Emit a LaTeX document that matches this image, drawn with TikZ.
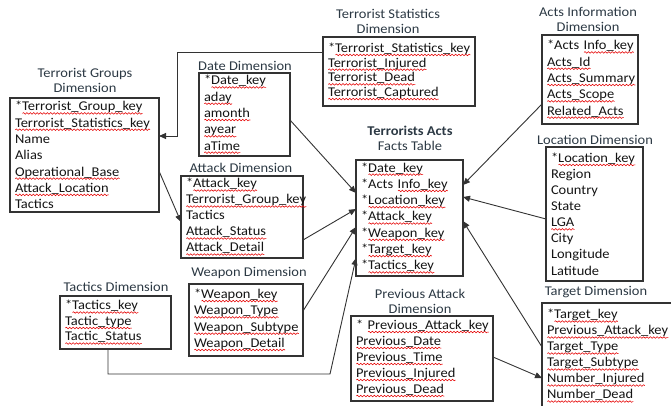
\documentclass[tikz,border=0pt]{standalone}
\usepackage{fontspec}
\setmainfont{Carlito}[FakeStretch=1.08]
\usetikzlibrary{arrows.meta,decorations.pathmorphing}
\newbox\sqbox
\newdimen\sqw
\newcommand\sq[1]{\leavevmode\setbox\sqbox\hbox{#1}\sqw=\wd\sqbox\rlap{\tikz[baseline=0pt,x=1pt,y=1pt]\draw[red!90!black, line width=0.55pt, decorate, decoration={snake,amplitude=0.8pt,segment length=3.4pt}] (0,-2.6) -- (\sqw,-2.6);}\box\sqbox}
\definecolor{ink}{HTML}{141414}
\definecolor{ttl}{HTML}{2C3944}
\definecolor{edge}{HTML}{333333}
\tikzset{
  box/.style={draw=edge, line width=1.2pt, anchor=north west, align=left,
    inner xsep=5pt, inner ysep=0pt, text=ink, outer sep=0pt,
    font=\fontsize{13.4}{16.3}\selectfont},
  ttlnode/.style={align=center, text=ttl, inner sep=0pt,
    font=\fontsize{13.4}{15}\selectfont},
  conn/.style={draw=edge, line width=0.9pt},
  arr/.style={conn, -{Triangle[length=7pt,width=6pt]}}
}
\begin{document}
\begin{tikzpicture}[x=1pt,y=-1pt]
\useasboundingbox (0,0) rectangle (671,405);
% titles
\node[ttlnode] (tgT) at (85,80.5) {Terrorist Groups\\Dimension};
\node[ttlnode] (dateT) at (245,66) {Date Dimension};
\node[ttlnode] (attT) at (241,168) {Attack Dimension};
\node[ttlnode] (wpT) at (249,273) {Weapon Dimension};
\node[ttlnode] (tacT) at (116,287) {Tactics Dimension};
\node[ttlnode] (tsT) at (388,21.5) {Terrorist Statistics\\Dimension};
\node[ttlnode] (facT) at (410,138.5) {\textbf{Terrorists Acts}\\Facts Table};
\node[ttlnode] (actT) at (588,19.5) {Acts Information\\Dimension};
\node[ttlnode] (locT) at (595,140) {Location Dimension};
\node[ttlnode] (tarT) at (596,292) {Target Dimension};
\node[ttlnode] (prvT) at (420,301.5) {Previous Attack\\Dimension};
% boxes
\node[box, text width=139, minimum height=114] (tg) at (10,98)
 {*\sq{Terrorist\_Group\_key}\\\sq{Terrorist\_Statistics\_key}\\Name\\Alias\\\sq{Operational\_Base}\\\sq{Attack\_Location}\\Tactics};
\node[box, text width=81, minimum height=83] (date) at (199,73)
 {*\sq{Date\_key}\\\sq{aday}\\\sq{amonth}\\\sq{ayear}\\\sq{aTime}};
\node[box, text width=112, minimum height=82, font=\fontsize{13.4}{16}\selectfont] (att) at (181,176)
 {*\sq{Attack\_key}\\\sq{Terrorist\_Group\_key}\\Tactics\\\sq{Attack\_Status}\\\sq{Attack\_Detail}};
\node[box, text width=104, minimum height=72] (wp) at (189,284)
 {*\sq{Weapon\_key}\\\sq{Weapon\_Type}\\\sq{Weapon\_Subtype}\\\sq{Weapon\_Detail}};
\node[box, text width=101, minimum height=53, font=\fontsize{13.4}{15.5}\selectfont] (tac) at (60,296)
 {*\sq{Tactics\_key}\\\sq{Tactic\_type}\\\sq{Tactic\_Status}};
\node[box, text width=142, minimum height=69, font=\fontsize{13.4}{14.7}\selectfont] (ts) at (323,37)
 {*\sq{Terrorist\_Statistics\_key}\\\sq{Terrorist\_Injured}\\\sq{Terrorist\_Dead}\\\sq{Terrorist\_Captured}};
\node[box, text width=97, minimum height=116] (fac) at (356,160)
 {*\sq{Date\_key}\\{*}Acts~\sq{Info\_key}\\{*}\sq{Location\_key}\\{*}\sq{Attack\_key}\\{*}\sq{Weapon\_key}\\{*}\sq{Target\_key}\\{*}\sq{Tactics\_key}};
\node[box, text width=86, minimum height=89] (act) at (542,35)
 {*Acts~\sq{Info\_key}\\\sq{Acts\_Id}\\\sq{Acts\_Summary}\\\sq{Acts\_Scope}\\\sq{Related\_Acts}};
\node[box, text width=87, minimum height=134, font=\fontsize{13.4}{16.1}\selectfont] (loc) at (546,147)
 {*\sq{Location\_key}\\Region\\Country\\State\\\sq{LGA}\\City\\Longitude\\Latitude};
\node[box, text width=130, minimum height=106, font=\fontsize{13.4}{16}\selectfont] (tar) at (542,303)
 {*\sq{Target\_key}\\\sq{Previous\_Attack\_key}\\\sq{Target\_Type}\\\sq{Target\_Subtype}\\\sq{Number\_Injured}\\\sq{Number\_Dead}};
\node[box, text width=132, minimum height=85, font=\fontsize{13.4}{16}\selectfont] (prv) at (351,316)
 {*~\sq{Previous\_Attack\_key}\\\sq{Previous\_Date}\\\sq{Previous\_Time}\\\sq{Previous\_Injured}\\\sq{Previous\_Dead}};
% connectors
\coordinate (tsbend) at (177,136);
\draw[arr] ([yshift=-15pt]ts.north west) -| (tsbend) -- ([yshift=-38pt]tg.north east);
\draw[arr] ([yshift=-73pt]tg.north east) -- ([yshift=-46pt]att.north west);
\draw[arr] ([yshift=-47pt]date.north east) -- ([yshift=-33pt]fac.north west);
\draw[arr] ([yshift=-64pt]att.north east) -- ([yshift=-49pt]fac.north west);
\draw[arr] ([yshift=-27pt]wp.north east) -- ([yshift=-67pt]fac.north west);
\coordinate (tacbend) at (330,374);
\draw[arr] ([xshift=-7.5pt]tac.south) |- (tacbend) -- ([yshift=-98pt]fac.north west);
\draw[arr] ([yshift=-69pt]act.north west) -- ([yshift=-25pt]fac.north east);
\draw[arr] ([yshift=-72pt]loc.north west) -- ([yshift=-37pt]fac.north east);
\draw[arr] ([yshift=-44pt]tar.north west) -- ([yshift=-61pt]fac.north east);
\draw[arr] ([yshift=-41pt]prv.north east) -- ([yshift=-75pt]tar.north west);
\end{tikzpicture}
\end{document}
